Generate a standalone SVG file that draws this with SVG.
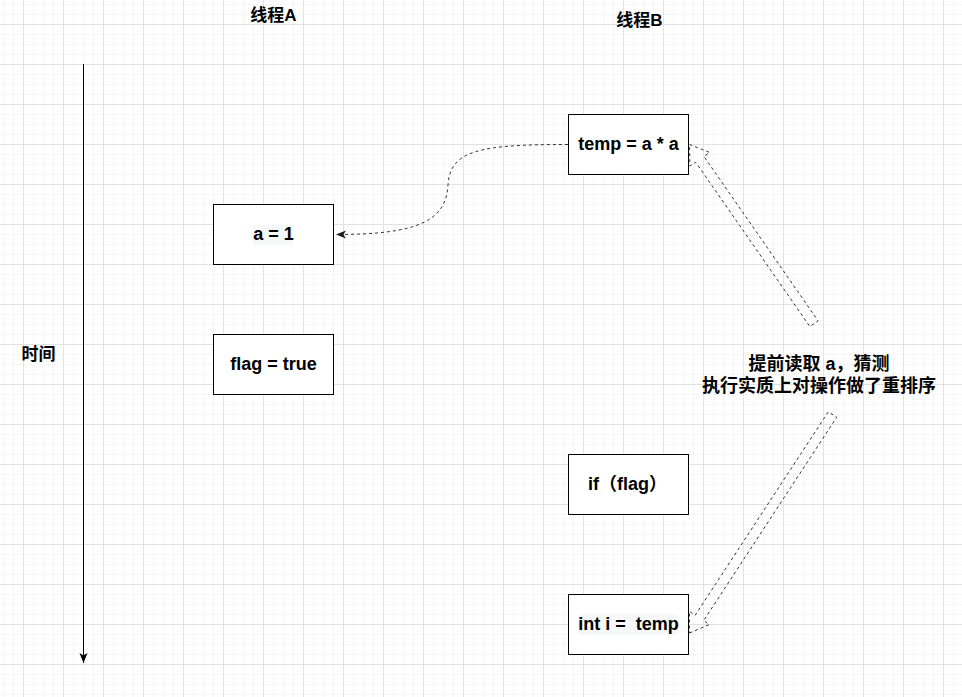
<svg xmlns="http://www.w3.org/2000/svg" width="962" height="697" viewBox="0 0 962 697">
  <defs>
    <pattern id="grid" x="23" y="24" width="40" height="40" patternUnits="userSpaceOnUse">
      <path d="M10.5 0V40M20.5 0V40M30.5 0V40M0 10.5H40M0 20.5H40M0 30.5H40" stroke="#f5f5f5" stroke-width="1" fill="none"/>
      <path d="M0.5 0V40M0 0.5H40" stroke="#e2e2e2" stroke-width="1" fill="none"/>
    </pattern>
    <marker id="arrBlack" markerWidth="12" markerHeight="12" viewBox="0 0 12 12" refX="10" refY="6" orient="auto" markerUnits="userSpaceOnUse">
      <path d="M0,2 L10,6 L0,10 L2.5,6 Z" fill="#000"/>
    </marker>
    <marker id="arrGray" markerWidth="12" markerHeight="12" viewBox="0 0 12 12" refX="10" refY="6" orient="auto" markerUnits="userSpaceOnUse">
      <path d="M0,2 L10,6 L0,10 L2.5,6 Z" fill="#1a1a1a"/>
    </marker>
  </defs>
  <style>
    .box { fill: #ffffff; stroke: #000000; stroke-width: 1; }
    .t { font-family: "Liberation Sans", Arial, "Noto Sans CJK SC", sans-serif; font-weight: bold; font-size: 17px; fill: #000; text-anchor: middle; }
    .n { font-family: "Liberation Sans", Arial, "Noto Sans CJK SC", sans-serif; font-weight: bold; font-size: 18px; fill: #000; text-anchor: middle; }
    .lbl { font-family: "Liberation Sans", Arial, "Noto Sans CJK SC", sans-serif; font-weight: bold; font-size: 18px; fill: #000; text-anchor: middle; }
    .dash { fill: none; stroke: #333333; stroke-width: 1; stroke-dasharray: 3 3; }
    .hl { fill: #f5f7f9; }
  </style>
  <rect x="0" y="0" width="962" height="697" fill="#ffffff"/>
  <rect x="0" y="0" width="962" height="697" fill="url(#grid)"/>

  <g id="connectors">
    <line id="timeline" x1="83.5" y1="64" x2="83.5" y2="663" stroke="#000" stroke-width="1" marker-end="url(#arrBlack)"/>
    <path id="read-a" class="dash" d="M568,144.5 C480,144.5 450,150 448,185 C446,220 420,234.5 336,234.5" marker-end="url(#arrGray)"/>
    <polygon id="block-arrow-1" class="dash" points="689.5,144.5 709.7,152.5 703.9,156.4 818.1,320.8 809.9,326.6 695.7,162.2 689.9,166.1"/>
    <polygon id="block-arrow-2" class="dash" points="689.5,633 709.4,624.5 703.6,620.6 836.7,417.2 828.3,411.8 695.2,615.2 689.4,611.3"/>
  </g>

  <g id="title-a"><text class="t" x="273.5" y="21">线程A</text></g>
  <g id="title-b"><text class="t" x="639.5" y="26">线程B</text></g>
  <g id="time-label"><text class="t" x="38.5" y="360">时间</text></g>

  <g id="node-a1">
    <rect class="box" x="213.5" y="204.5" width="120" height="60"/>
    <rect class="hl" x="253" y="225" width="40" height="20"/>
    <text class="n" x="273.5" y="240">a = 1</text>
  </g>
  <g id="node-flag">
    <rect class="box" x="213.5" y="334.5" width="120" height="60"/>
    <text class="n" x="273.5" y="370">flag = true</text>
  </g>
  <g id="node-temp">
    <rect class="box" x="568.5" y="114.5" width="120" height="60"/>
    <text class="n" x="628.5" y="150">temp = a * a</text>
  </g>
  <g id="node-if">
    <rect class="box" x="568.5" y="454.5" width="120" height="60"/>
    <text class="n" x="627.5" y="490">if（flag）</text>
  </g>
  <g id="node-int">
    <rect class="box" x="568.5" y="594.5" width="120" height="60"/>
    <rect class="hl" x="578" y="614" width="100" height="21"/>
    <text class="n" x="628.5" y="630" xml:space="preserve">int i =  temp</text>
  </g>
  <g id="note">
    <text class="lbl" x="819" y="370">提前读取 a，猜测</text>
    <text class="lbl" x="819" y="392">执行实质上对操作做了重排序</text>
  </g>
</svg>
